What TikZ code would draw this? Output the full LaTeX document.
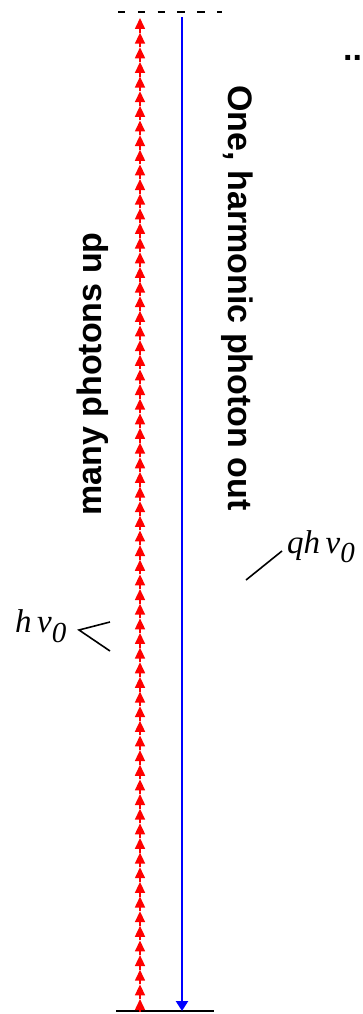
\documentclass[tikz,border=0pt]{standalone}
\usepackage{fontspec}
\setmainfont{Liberation Serif}
\newfontfamily\arial{Liberation Sans}
\usetikzlibrary{arrows.meta}
\tikzset{
  redarrow/.style={draw=red, line width=1.6pt, -{Triangle[length=11pt,width=10pt]}},
  bluearrow/.style={draw=blue, line width=2.4pt, -{Triangle[length=10pt,width=12pt]}},
  level/.style={draw=black, line width=2.2pt},
  dashlevel/.style={draw=black, line width=2.2pt, dash pattern=on 7.3pt off 12.5pt},
  bigtext/.style={font=\arial\bfseries\fontsize{34}{40}\selectfont, inner sep=0pt},
  mathlbl/.style={font=\fontsize{33}{40}\selectfont\itshape, inner sep=0pt, anchor=base west},
  tick/.style={draw=black, line width=1.6pt}
}
\begin{document}
\begin{tikzpicture}[x=1pt, y=-1pt]
\useasboundingbox (0,0) rectangle (362,1014);
% levels
\coordinate (tl) at (118,12);
\coordinate (tr) at (222,12);
\draw[dashlevel] (tl) -- (tr);
\coordinate (bl) at (116,1011);
\coordinate (br) at (214,1011);
\draw[level] (bl) -- (br);
% red chain of photons
\coordinate (r0) at (140,1012);
\foreach \k in {1,...,68} {
  \coordinate (r\k) at (140,{18+(68-\k)*14.642});
}
\foreach \k [evaluate=\k as \j using int(\k-1)] in {1,...,68} {
  \draw[redarrow] (r\j) -- (r\k);
}
% blue harmonic photon
\coordinate (bt) at (182,17);
\coordinate (bb) at (182,1011);
\draw[bluearrow] (bt) -- (bb);
% texts
\node[bigtext, rotate=90, anchor=base] (many) at (101,374) {many photons up};
\node[bigtext, rotate=-90, anchor=base] (one) at (228,298) {One, harmonic photon out};
\node[bigtext, anchor=base west] (dots) at (343,61) {...};
% labels
\node[mathlbl] (hnu) at (15,632) {h\,ν\raisebox{-10pt}{\fontsize{29}{35}\selectfont 0}};
\node[mathlbl] (qhnu) at (287,553) {qh\,ν\raisebox{-9pt}{\fontsize{29}{35}\selectfont 0}};
% pointer ticks
\coordinate (hv) at (79,630);
\coordinate (h1) at (110,622);
\coordinate (h2) at (110,651);
\draw[tick] (h1) -- (hv) -- (h2);
\coordinate (q1) at (246,580);
\coordinate (q2) at (282,551);
\draw[tick] (q1) -- (q2);
\end{tikzpicture}
\end{document}
